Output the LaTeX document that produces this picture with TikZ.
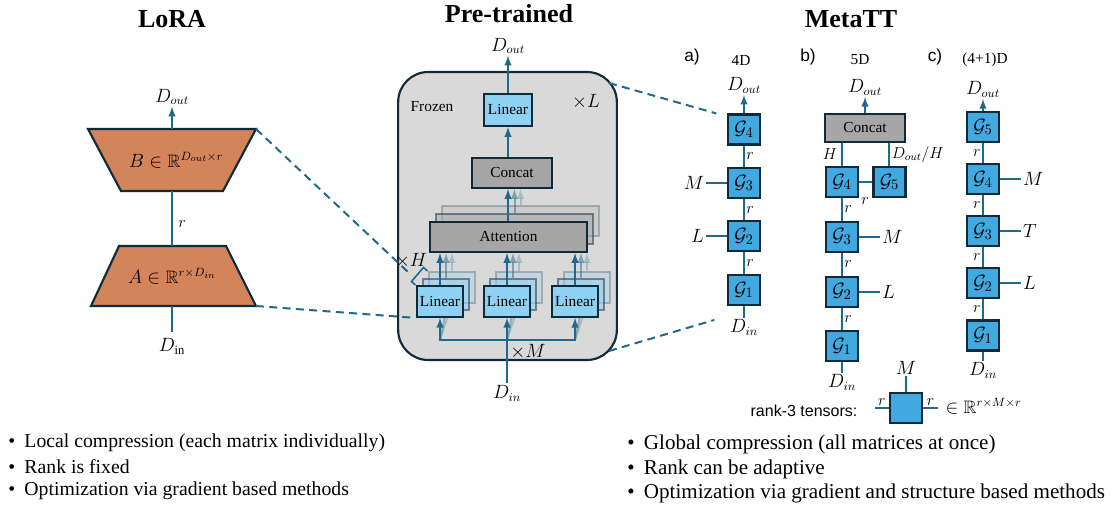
\documentclass[tikz,border=0pt]{standalone}
\usepackage{amssymb}
\usepackage{fontspec}
\setmainfont{Liberation Serif}
\newfontfamily\arialfont{Liberation Sans}
\usetikzlibrary{arrows,positioning}

\definecolor{linkc}{HTML}{1F6A8C}
\definecolor{edgec}{HTML}{0F2B3A}
\definecolor{coreblue}{HTML}{41A8E0}
\definecolor{linblue}{HTML}{8ED1F2}
\definecolor{loraorange}{HTML}{D4845A}
\definecolor{catgray}{HTML}{A6A6A6}
\definecolor{frozengray}{HTML}{D9D9D9}

\tikzset{
	boxedge/.style={draw=edgec, line width=1.6pt},
	core/.style={boxedge, fill=coreblue, minimum width=24pt, minimum height=22.5pt, inner sep=0pt, font=\fontsize{15}{17}\selectfont},
	linbox/.style={boxedge, fill=linblue, minimum width=35pt, minimum height=23pt, inner sep=0pt, font=\fontsize{11.5}{13}\selectfont},
	catbox/.style={boxedge, fill=catgray, minimum width=60pt, minimum height=22.5pt, inner sep=0pt, font=\fontsize{11.5}{13}\selectfont},
	frozenbox/.style={boxedge, fill=frozengray, rounded corners=22.5pt, minimum width=164pt, minimum height=216pt},
	wire/.style={draw=linkc, line width=1.5pt},
	arr/.style={wire, -latex},
	zoomln/.style={draw=linkc, line width=1.5pt, dash pattern=on 6pt off 4pt},
	lbl/.style={font=\fontsize{13.5}{15}\selectfont, inner sep=1pt},
	rlbl/.style={font=\fontsize{11.5}{13}\selectfont, inner sep=1pt},
	ttl/.style={font=\fontsize{19.5}{22}\selectfont\bfseries},
	txt/.style={font=\fontsize{11.5}{13}\selectfont},
	sf/.style={font=\arialfont\fontsize{13}{15}\selectfont},
	bul/.style={anchor=west, font=\fontsize{14.8}{17}\selectfont, inner sep=0pt},
}

\begin{document}
\begin{tikzpicture}[x=0.75pt, y=-0.75pt]
	\useasboundingbox (0,0) rectangle (1114,513);
	%\draw [help lines] (0,0) grid[step=50] (1114,513);
	\node[ttl] (tlora) at (172,19) {LoRA};
	\node[ttl] (tpre) at (509,14) {Pre-trained};
	\node[ttl] (tmeta) at (851,19) {MetaTT};

	% LoRA
	\draw[boxedge, fill=loraorange] (88,129) -- (256,129) -- (223,191) -- (121,191) -- cycle;
	\draw[boxedge, fill=loraorange] (119,246) -- (226,246) -- (256,306) -- (91,306) -- cycle;
	\node[lbl, minimum height=46.5pt] (B) at (176,160) {$B\in\mathbb{R}^{D_{out}\times r}$};
	\node[lbl, minimum height=45pt] (A) at (172,276) {$A\in\mathbb{R}^{r\times D_{in}}$};
	\node[lbl] (loraout) at (172,97) {$D_{out}$};
	\node[lbl] (lorain) at (172,346) {$D_{\mathrm{in}}$};
	\draw[arr] (B.north -| loraout) -- (loraout);
	\draw[wire] (A.north) -- node[rlbl, right=3pt, pos=.4] {$r$} (A.north |- B.south);
	\draw[wire, shorten >=3pt] (A.south) -- (lorain);
	\coordinate (Btr) at (256,129);
	\coordinate (Abr) at (256,306);

	% Pre-trained
	\node[frozenbox] (blk) at (507.5,216) {};
	\node[txt, anchor=west] (frz) at (406,107) {Frozen};
	\node[lbl] (xL) at (586,102) {$\times L$};
	\node[lbl] (preout) at (508,46) {$D_{out}$};
	\node[linbox, minimum width=36pt, minimum height=24pt] (plin) at (508,110) {Linear};
	\node[catbox] (pcat) at (512,173) {Concat};
	\draw[arr] (plin) -- (preout);
	\draw[arr] (pcat.north -| plin) -- (plin.south);
	\node[catbox, minimum width=118pt, opacity=.25] (att2) at (520.5,221) {};
	\node[catbox, minimum width=118pt, opacity=.5] (att1) at (514.5,229) {};
	\draw[arr, opacity=.25] (att2.north) -- (att2.north |- pcat.south);
	\draw[arr, opacity=.5] (att1.north) -- (att1.north |- pcat.south);
	\node[catbox, minimum width=118pt] (att) at (508.5,237) {Attention};
	\draw[arr] (att.north -| plin) -- (pcat.south -| plin);
	\foreach \x/\n in {440/1,507/2,575/3}{
		\node[linbox, opacity=.25] (lin\n-c) at (\x+12,287.5) {};
		\node[linbox, opacity=.5] (lin\n-b) at (\x+6,294.5) {};
		\draw[arr, opacity=.25] (lin\n-c.north) -- (lin\n-c.north |- att.south);
		\draw[arr, opacity=.5] (lin\n-b.north) -- (lin\n-b.north |- att.south);
		\draw[wire, opacity=.25] (\x,340) -- (lin\n-c.south);
		\draw[wire, opacity=.4] (\x,340) -- (lin\n-b.south);
		\node[linbox] (lin\n) at (\x,301.5) {Linear};
		\draw[arr] (lin\n.north) -- (lin\n.north |- att.south);
	}
	\node[lbl] (prein) at (507,393) {$D_{in}$};
	\coordinate (bus) at (507,340);
	\draw[arr] (prein) -- (lin2.south);
	\draw[arr] (bus) -| (lin1.south);
	\draw[arr] (bus) -| (lin3.south);
	\node[lbl] (xM) at (528,352) {$\times M$};
	\node[lbl] (xH) at (411,261) {$\times H$};
	\draw[wire, line width=1.2pt] (415.5,285) -- (411.5,281.5) -- (423.5,267.5) -- (427.5,271);
	\coordinate (blktr) at (609,83);
	\coordinate (blkbr) at (609,351);

	% MetaTT a)
	\node[sf] (ta) at (692,57) {a)};
	\node[txt] (dima) at (741,60) {4D};
	\node[core] (G4a) at (744,129.5) {$\mathcal{G}_4$};
	\node[core, below=16pt of G4a] (G3a) {$\mathcal{G}_3$};
	\node[core, below=16pt of G3a] (G2a) {$\mathcal{G}_2$};
	\node[core, below=16pt of G2a] (G1a) {$\mathcal{G}_1$};
	\node[lbl, above=14pt of G4a] (outa) {$D_{out}$};
	\node[lbl, below=9pt of G1a] (ina) {$D_{in}$};
	\node[lbl, left=16pt of G3a] (Ma) {$M$};
	\node[lbl, left=16pt of G2a] (La) {$L$};
	\draw[arr] (G4a) -- (outa);
	\draw[wire] (G4a) -- node[rlbl, right] {$r$} (G3a);
	\draw[wire] (G3a) -- node[rlbl, right] {$r$} (G2a);
	\draw[wire] (G2a) -- node[rlbl, right] {$r$} (G1a);
	\draw[wire] (G1a) -- (ina);
	\draw[wire] (Ma) -- (G3a);
	\draw[wire] (La) -- (G2a);

	% MetaTT b)
	\node[sf] (tb) at (808,57) {b)};
	\node[txt] (dimb) at (860,60) {5D};
	\node[catbox, minimum height=21pt] (catb) at (865,128) {Concat};
	\node[lbl, above=12pt of catb] (outb) {$D_{out}$};
	\node[core] (G4b) at (842,182) {$\mathcal{G}_4$};
	\node[core, right=10pt of G4b] (G5b) {$\mathcal{G}_5$};
	\node[core, below=17pt of G4b] (G3b) {$\mathcal{G}_3$};
	\node[core, below=17pt of G3b] (G2b) {$\mathcal{G}_2$};
	\node[core, below=17pt of G2b] (G1b) {$\mathcal{G}_1$};
	\node[lbl, below=8pt of G1b] (inb) {$D_{in}$};
	\node[lbl, right=16pt of G3b] (Mb) {$M$};
	\node[lbl, right=16pt of G2b] (Lb) {$L$};
	\draw[arr] (catb) -- (outb);
	\draw[wire] (catb.south -| G4b) -- node[rlbl, left=2pt] {$H$} (G4b.north);
	\draw[wire] (catb.south -| G5b) -- node[rlbl, right] {$D_{out}/H$} (G5b.north);
	\draw[wire] (G4b) -- (G5b);
	\node[rlbl] (r45) at (865,201) {$r$};
	\draw[wire] (G4b) -- node[rlbl, right] {$r$} (G3b);
	\draw[wire] (G3b) -- node[rlbl, right] {$r$} (G2b);
	\draw[wire] (G2b) -- node[rlbl, right] {$r$} (G1b);
	\draw[wire] (G1b) -- (inb);
	\draw[wire] (G3b) -- (Mb);
	\draw[wire] (G2b) -- (Lb);

	% MetaTT c)
	\node[sf] (tc) at (935,57) {c)};
	\node[txt] (dimc) at (985,60) {(4+1)D};
	\node[core] (G5c) at (983,127) {$\mathcal{G}_5$};
	\node[core, below=15pt of G5c] (G4c) {$\mathcal{G}_4$};
	\node[core, below=15pt of G4c] (G3c) {$\mathcal{G}_3$};
	\node[core, below=15pt of G3c] (G2c) {$\mathcal{G}_2$};
	\node[core, below=15pt of G2c] (G1c) {$\mathcal{G}_1$};
	\node[lbl, above=9pt of G5c] (outc) {$D_{out}$};
	\node[lbl, below=7pt of G1c] (inc) {$D_{in}$};
	\node[lbl, right=16pt of G4c] (Mc) {$M$};
	\node[lbl, right=16pt of G3c] (Tc) {$T$};
	\node[lbl, right=16pt of G2c] (Lc) {$L$};
	\draw[arr] (G5c) -- (outc);
	\draw[wire] (G5c) -- node[rlbl, left] {$r$} (G4c);
	\draw[wire] (G4c) -- node[rlbl, left] {$r$} (G3c);
	\draw[wire] (G3c) -- node[rlbl, left] {$r$} (G2c);
	\draw[wire] (G2c) -- node[rlbl, left] {$r$} (G1c);
	\draw[wire] (G1c) -- (inc);
	\draw[wire] (G4c) -- (Mc);
	\draw[wire] (G3c) -- (Tc);
	\draw[wire] (G2c) -- (Lc);

	% rank-3 tensor legend
	\node[sf, font=\arialfont\fontsize{12}{14}\selectfont] (rk) at (804,411) {rank-3 tensors:};
	\node[core] (leg) at (906,408) {};
	\node[lbl, above=12pt of leg] (legM) {$M$};
	\coordinate (legl) at (875,408);
	\coordinate (legr) at (938,408);
	\draw[wire] (leg) -- (legM);
	\draw[wire] (legl) -- node[rlbl, above] {$r$} (leg.west);
	\draw[wire] (leg.east) -- node[rlbl, above] {$r$} (legr);
	\node[lbl, anchor=west] (legR) at (944,406) {$\in\mathbb{R}^{r\times M\times r}$};

	% zoom lines
	\draw[zoomln] (Btr) -- (408,272);
	\draw[zoomln, shorten >=3pt] (Abr) -- (lin1.south west);
	\draw[zoomln] (blktr) -- ([xshift=-8pt]G4a.north west);
	\draw[zoomln] (blkbr) -- ([xshift=-9.5pt, yshift=-10.5pt]G1a.south west);

	% bullets
	\foreach \t [count=\i] in {Local compression (each matrix individually), Rank is fixed, Optimization via gradient based methods}
		\node[bul] (lorapt\i) at (8,419+24*\i) {\textbullet\hspace{7pt}\t};
	\foreach \t [count=\i] in {Global compression (all matrices at once), Rank can be adaptive, Optimization via gradient and structure based methods}
		\node[bul, font=\fontsize{15.8}{18}\selectfont] (metapt\i) at (627,420+24.5*\i) {\textbullet\hspace{7pt}\t};
\end{tikzpicture}
\end{document}
